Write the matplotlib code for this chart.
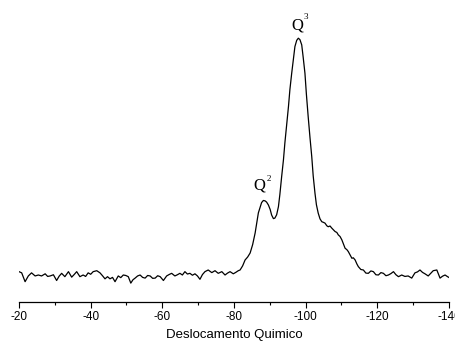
import matplotlib.pyplot as plt
from matplotlib.ticker import MultipleLocator

plt.rcParams["axes.unicode_minus"] = False

# Espectro de RMN 29Si: deslocamento (ppm) e intensidade (u.a.)
deslocamento = [
    -20.0, -20.75, -21.7, -22.6, -23.5, -24.5, -25.4, -26.3, -27.3, -28.0, -28.7,
    -29.6, -30.5, -31.2, -31.9, -32.8, -33.8, -34.7, -35.4, -36.1, -37.0, -37.9,
    -38.6, -39.3, -40.0, -40.7, -41.7, -42.6, -43.3, -44.0, -44.7, -45.4, -46.1,
    -46.8, -47.7, -48.4, -49.1, -49.8, -50.5, -51.2, -51.8, -52.4, -53.1, -53.8,
    -54.5, -55.2, -55.9, -56.6, -57.3, -58.0, -58.7, -59.4, -60.3, -61.2, -61.9,
    -62.6, -63.5, -64.2, -64.9, -65.6, -66.3, -67.0, -67.7, -68.4, -69.1, -69.8,
    -70.5, -71.2, -71.9, -72.8, -73.8, -74.7, -75.6, -76.6, -77.5, -78.2, -78.9,
    -79.8, -80.5, -81.2, -81.7, -82.4, -83.1, -83.8, -84.5, -85.2, -85.9, -86.8,
    -87.7, -88.2, -88.7, -89.1, -89.6, -90.1, -90.5, -91.0, -91.4, -91.9, -92.4,
    -92.8, -93.3, -93.8, -94.2, -94.7, -95.2, -95.6, -96.1, -96.6, -97.0, -97.5,
    -97.95, -98.4, -98.9, -99.3, -99.8, -100.2, -100.7, -101.2, -101.7, -102.1,
    -102.6, -103.0, -103.5, -104.0, -104.5, -105.0, -105.4, -105.9, -106.3, -106.8,
    -107.3, -107.7, -108.2, -108.7, -109.1, -109.6, -110.1, -110.5, -111.0, -111.5,
    -111.9, -112.4, -112.9, -113.3, -113.8, -114.3, -114.7, -115.4, -116.1, -116.8,
    -117.5, -118.2, -118.9, -119.6, -120.3, -121.0, -121.7, -122.4, -123.1, -123.8,
    -124.5, -125.2, -125.9, -126.8, -127.7, -128.6, -129.6, -130.5, -131.2, -131.9,
    -132.6, -133.3, -134.2, -134.9, -135.6, -136.6, -137.5, -138.2, -138.9, -139.6,
    -140.3,
]
intensidade = [
    2.2, 1.7, -2.0, 0.4, 1.7, 0.4, 0.8, 0.4, 1.3, 0.2, 0.4,
    0.9, -1.5, 0.3, 1.5, 0.1, 2.2, -0.1, 1.0, 2.2, 0.1, 0.8,
    0.2, 1.7, 1.1, 2.2, 2.6, 1.7, 0.5, -0.8, 0.1, -0.8, -0.2,
    -2.0, 0.4, -0.3, 0.8, 0.6, 0.1, -2.6, -1.2, -0.5, 0.4, 0.8,
    -0.2, -0.5, 0.6, 0.4, -0.6, -0.5, 0.5, 0.1, -1.5, 0.4, 1.0,
    1.5, 0.4, 0.9, 1.5, 0.8, 2.2, 1.2, 1.5, 0.7, 1.3, 0.4,
    -1.0, 1.0, 2.2, 2.9, 1.8, 2.6, 1.5, 2.2, 0.8, 1.6, 2.2,
    1.3, 1.9, 2.6, 2.9, 4.6, 7.1, 8.3, 10.0, 13.5, 18.4, 26.8,
    31.1, 32.0, 31.8, 31.3, 30.1, 28.2, 25.9, 24.4, 24.6, 26.0, 29.4,
    34.5, 42.0, 49.0, 56.1, 63.8, 71.3, 78.4, 85.2, 91.5, 96.4, 99.0,
    99.9, 99.3, 97.1, 92.0, 85.2, 76.5, 67.1, 58.4, 50.3, 42.3,
    35.0, 30.2, 26.7, 24.3, 23.1, 22.8, 22.5, 21.4, 21.0, 21.3,
    20.4, 19.8, 19.0, 18.6, 17.6, 16.9, 15.5, 14.0, 12.0, 11.4,
    10.6, 9.2, 7.8, 8.0, 7.1, 5.4, 4.3, 3.1, 2.9, 1.6,
    1.5, 2.5, 2.2, 0.9, 0.8, 1.8, 1.5, 0.5, 0.8, 1.4,
    2.2, 0.9, 0.1, 0.8, 0.2, 0.4, -0.5, 1.7, 2.1, 2.9,
    1.9, 1.3, 0.4, 1.5, 2.6, 2.9, -0.5, 0.3, 0.8, 0.1,
    -0.5,
]

# Picos identificados
picos_nome = ["2", "3"]
picos_pos = [-88.2, -97.95]
picos_int = [32.0, 99.9]

fig = plt.figure(figsize=(4.55, 3.42), dpi=100)
ax = fig.add_axes([19 / 455, 40 / 342, 430 / 455, 292 / 342])

ax.plot(deslocamento, intensidade, color="black", lw=0.9)
ax.set_xlim(-20, -140)
ax.set_ylim(-10.5, 111.7)

# Apenas o eixo inferior visível
for lado in ["left", "right", "top"]:
    ax.spines[lado].set_visible(False)
ax.spines["bottom"].set_linewidth(0.9)
ax.set_yticks([])
ax.xaxis.set_major_locator(MultipleLocator(20))
ax.xaxis.set_minor_locator(MultipleLocator(10))
ax.tick_params(axis="x", which="major", length=4.5, width=0.8, pad=2,
               labelsize=8.5)
ax.tick_params(axis="x", which="minor", length=2.5, width=0.8)
for lbl in ax.get_xticklabels():
    lbl.set_fontfamily("Liberation Sans")
ax.set_xlabel("Deslocamento Quimico", fontsize=9.5, family="Liberation Sans",
              labelpad=4)

# Rótulos Q^n sobre os picos
desloc_q = {"2": (-3, 8), "3": (-1, 6.5)}
desloc_sup = {"2": (2.2, 15.5), "3": (3.6, 15.0)}
for nome, xp, yp in zip(picos_nome, picos_pos, picos_int):
    ax.annotate("Q", xy=(xp, yp), xytext=desloc_q[nome],
                textcoords="offset points", ha="center", va="baseline",
                fontsize=12, family="Liberation Serif")
    ax.annotate(nome, xy=(xp, yp), xytext=desloc_sup[nome],
                textcoords="offset points", ha="left", va="center",
                fontsize=6.5, family="Liberation Serif")

fig.savefig("out.png", dpi=100)
